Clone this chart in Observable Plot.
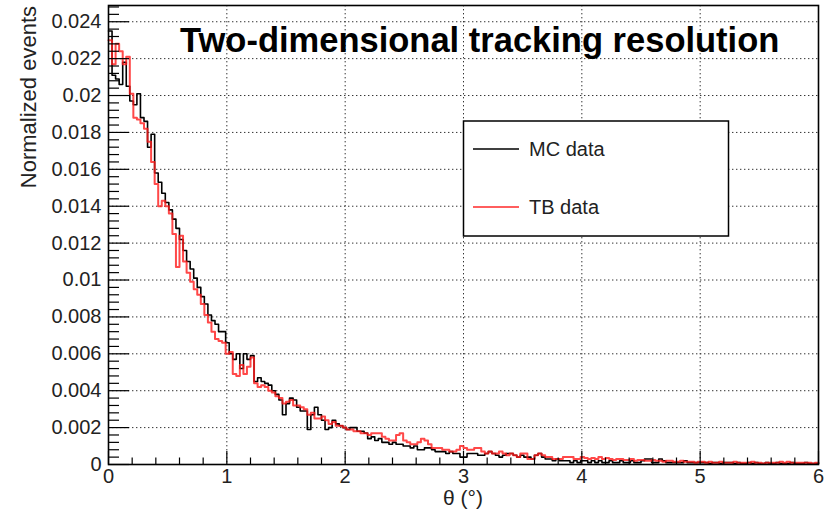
<!DOCTYPE html>
<html><head><meta charset="utf-8">
<script src="https://cdn.jsdelivr.net/npm/d3@7"></script>
<script src="https://cdn.jsdelivr.net/npm/@observablehq/plot@0.6"></script>
<style>html,body{margin:0;padding:0;background:#fff}#chart{width:825px;height:509px}</style>
</head><body><div id="chart"></div>
<script>
const titleText = "Two-dimensional tracking resolution";
const xLabel = "θ (°)";
const yLabel = "Normalized events";
const seriesNames = ["MC data", "TB data"];
const binWidth = 0.03; // θ bin width in degrees (200 bins, 0–6)
// bin contents, in units of 1e-4 (normalized events)
const mcE4 = [
 235,211,209,206,218,205,197,195,201,188,
 186,172,179,158,153,147,142,138,133,128,
 122,116,110,106,101,96,91,87,81,78,
 76,72,72,66,60,57,60,52,60,57,
 59,45,47,45,44,43,40,38,35,27,
 33,36,35,31,29,29,19,27,31,27,
 24,19,20,24,22,21,20,19,20,20,
 18,18,17,14,15,13,14,12,12,11,
 12,11,11,10,10,9,10,8,8,9,
 9,8,7,7,7,6,7,6,6,4,
 4,6,6,6,5,5,6,7,6,5,
 4,5,6,6,5,4,5,4,4,3,
 5,6,4,3,3,2,3,2,2,2,
 1,2,1,2,2,1,2,1,2,1,
 1,2,1,1,2,1,1,2,1,1,
 2,3,3,1,1,3,2,1,1,1,
 1,1,2,1,1,1,1,1,1,0.5,
 1,1,0.5,1,1,1,0.5,1,0.5,0.5,
 1,0.5,1,0.5,0.5,1,0.5,0.5,1,0.5,
 0.5,0.5,1,0.5,0.5,0.5,1,0.5,0.5,0.5
];
const tbE4 = [
 230,217,228,224,217,221,201,188,187,185,
 182,175,164,152,140,143,140,136,125,107,
 124,110,104,99,95,92,87,81,77,72,
 68,67,66,60,61,49,48,54,49,53,
 58,44,42,43,42,40,39,37,36,33,
 34,35,32,32,31,30,27,28,25,25,
 26,24,22,23,21,21,20,19,19,18,
 18,17,17,16,17,17,17,15,14,13,
 13,16,17,13,12,11,11,12,14,13,
 11,9,9,9,8,8,7,7,8,10,
 9,8,8,9,9,7,6,7,6,6,
 7,6,5,6,5,4,6,6,3,3,
 5,6,5,4,4,3,3,3,4,4,
 4,3,3,4,3.5,3,3.5,3,4,3,
 3.5,3,2.5,3,3,2.5,2.5,3,2,2.5,
 2.5,2,2,2.5,2,2,1.5,2,2,1.5,
 1.5,2,1.5,1.5,1.5,1,1.5,1.5,1,1.5,
 1,1,1.5,1,1,1,1.5,1,1,1,
 1,1.5,1,1,0.5,1,1,1,1,1.5,
 1,1.5,1,1,1,1,1,1,0.5,1
];
const xTicks = [0, 1, 2, 3, 4, 5, 6];
const yTicks = [0, 0.002, 0.004, 0.006, 0.008, 0.01, 0.012, 0.014, 0.016, 0.018, 0.02, 0.022, 0.024];
const xMinor = d3.range(0, 6.001, 0.2).filter(d => Math.abs(d - Math.round(d)) > 1e-6);
const yMinor = d3.range(0, 0.0249, 0.0004).filter(d => Math.abs(d / 0.002 - Math.round(d / 0.002)) > 1e-6);

function histRows(vals) {
  const rows = vals.map((v, k) => ({theta: k * binWidth, value: v * 1e-4}));
  rows.push({theta: vals.length * binWidth, value: vals[vals.length - 1] * 1e-4});
  return rows;
}
const mcRows = histRows(mcE4);
const tbRows = histRows(tbE4);

const W = 825, H = 509, mL = 108, mR = 7, mT = 5, mB = 45;
const fw = W - mL - mR, fh = H - mT - mB;
const FONT = "'Liberation Sans', Arial, sans-serif";
const RED = "#ff1a1a";

const chart = Plot.plot({
  width: W, height: H,
  marginLeft: mL, marginRight: mR, marginTop: mT, marginBottom: mB,
  x: {domain: [0, 6]},
  y: {domain: [0, 0.02488]},
  style: {fontFamily: FONT, background: "white", color: "#222"},
  marks: [
    Plot.ruleY(yTicks.filter(d => d > 0), {stroke: "#333", strokeWidth: 1, strokeDasharray: "1.4,2.6"}),
    Plot.ruleX(xTicks.filter(d => d > 0 && d < 6), {stroke: "#333", strokeWidth: 1, strokeDasharray: "1.4,2.6"}),
    Plot.line(mcRows, {x: "theta", y: "value", curve: "step-after", stroke: "black", strokeWidth: 1.6}),
    Plot.line(tbRows, {x: "theta", y: "value", curve: "step-after", stroke: RED, strokeOpacity: 0.8, strokeWidth: 2}),
    Plot.tickY(yTicks, {y: d => d, insetRight: fw - 21, stroke: "black", strokeWidth: 1.2}),
    Plot.tickY(yMinor, {y: d => d, insetRight: fw - 11, stroke: "black", strokeWidth: 1.2}),
    Plot.tickX(xTicks, {x: d => d, insetTop: fh - 13, stroke: "black", strokeWidth: 1.2}),
    Plot.tickX(xMinor, {x: d => d, insetTop: fh - 6.5, stroke: "black", strokeWidth: 1.2}),
    Plot.axisY(yTicks, {tickSize: 0, tickPadding: 7, fontSize: 20, label: null, tickFormat: d => String(d)}),
    Plot.axisX(xTicks, {tickSize: 0, tickPadding: 4, fontSize: 20, label: null, tickFormat: d => String(d)}),
    Plot.frame({stroke: "black", strokeWidth: 1.6})
  ]
});
document.getElementById("chart").appendChild(chart);

const svg = d3.select(chart);
svg.append("text").attr("x", 180).attr("y", 52).attr("text-anchor", "start")
  .attr("font-family", FONT).attr("font-weight", "bold").attr("font-size", 34.5)
  .attr("fill", "black").text(titleText);
svg.append("text").attr("transform", "translate(36,6) rotate(-90)")
  .attr("text-anchor", "end").attr("font-family", FONT).attr("font-size", 22)
  .attr("fill", "#222").text(yLabel);
svg.append("text").attr("x", 463).attr("y", 505).attr("text-anchor", "middle")
  .attr("font-family", FONT).attr("font-size", 21).attr("fill", "#222").text(xLabel);

const lg = svg.append("g");
lg.append("rect").attr("x", 463.5).attr("y", 121).attr("width", 265).attr("height", 115)
  .attr("fill", "white").attr("stroke", "black").attr("stroke-width", 1.5);
const legendItems = [
  {name: seriesNames[0], color: "black", op: 1, w: 1.6, y: 149},
  {name: seriesNames[1], color: RED, op: 0.7, w: 2, y: 207}
];
legendItems.forEach(it => {
  lg.append("line").attr("x1", 473).attr("x2", 519).attr("y1", it.y).attr("y2", it.y)
    .attr("stroke", it.color).attr("stroke-opacity", it.op).attr("stroke-width", it.w);
  lg.append("text").attr("x", 529).attr("y", it.y + 7).attr("text-anchor", "start")
    .attr("font-family", FONT).attr("font-size", 20).attr("fill", "#222").text(it.name);
});
</script>
</body></html>
